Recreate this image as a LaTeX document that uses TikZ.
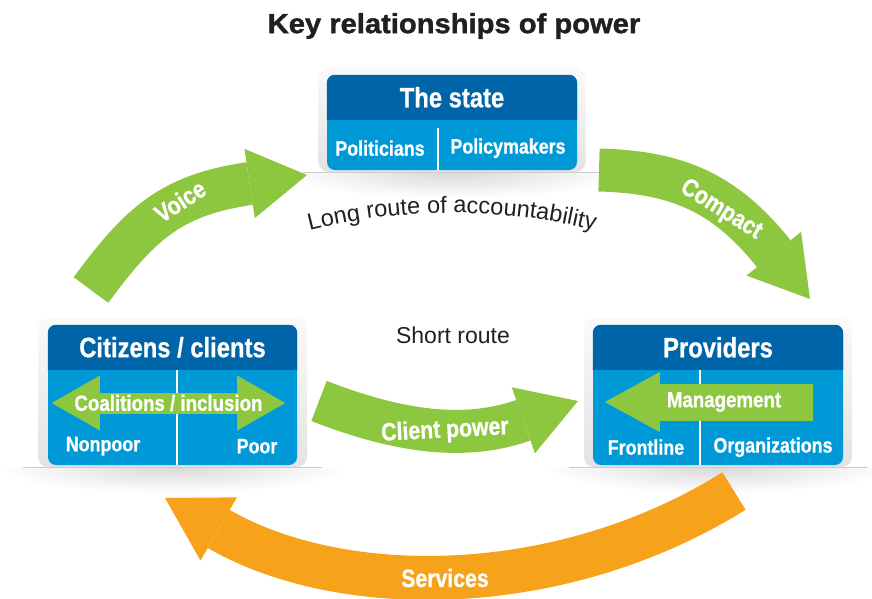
\documentclass[tikz,border=0pt]{standalone}
\usepackage{fontspec}
\setmainfont{Liberation Sans}[FakeStretch=0.85, FakeBold=0.8]
\newfontfamily\titlefont{Liberation Sans}[FakeStretch=1.06, FakeBold=1.4]
\newfontfamily\routefont{Liberation Sans}
\usepackage{xcolor}
\definecolor{darkblue}{HTML}{0064A8}
\definecolor{lightblue}{HTML}{0099D8}
\definecolor{leafgreen}{HTML}{8DC63F}
\definecolor{amber}{HTML}{F7A21B}
\definecolor{ink}{HTML}{231F20}
\usetikzlibrary{arrows.meta, positioning, decorations.text}

\begin{document}
\begin{tikzpicture}[x=1pt, y=-1pt,
    every node/.style={inner sep=0pt},
    plate/.style={top color=gray!4, bottom color=gray!22, rounded corners=10pt},
    bluebox/.style={fill=lightblue, rounded corners=8pt},
    headtext/.style={font=\bfseries\fontsize{28}{30}\selectfont, text=white},
    subtext/.style={font=\bfseries\fontsize{21}{24}\selectfont, text=white},
    armtext/.style={font=\bfseries\fontsize{22}{24}\selectfont, text=white},
    routetext/.style={font=\routefont\fontsize{23}{26}\selectfont, text=ink},
    divline/.style={draw=white, line width=2.5pt},
    bigarrow/.style={draw=leafgreen, line width=43pt, -{Triangle[length=58pt, width=70pt, line width=0pt]}},
    servicearrow/.style={draw=amber, line width=44pt, -{Triangle[length=62pt, width=73pt, line width=0pt]}}]
  \useasboundingbox (0,0) rectangle (872,598);

  % Title
  \node[font=\titlefont\bfseries\fontsize{27.5}{30}\selectfont, text=ink] (title) at (454,26) {Key relationships of power};

  % The state box
  \node[plate, minimum width=267pt, minimum height=105pt] (stateplate) at (452,119.5) {};
  \node[bluebox, minimum width=250pt, minimum height=95pt, anchor=south] (state) at ([yshift=2pt]stateplate.south) {};
  \begin{scope}
    \clip (state.north west) rectangle ([yshift=-45pt]state.north east);
    \fill[darkblue, rounded corners=8pt] (state.north west) rectangle (state.south east);
  \end{scope}
  \node[headtext] (statetitle) at ([yshift=-22.5pt]state.north) {The state};
  \draw[divline] ([xshift=111pt]state.south west) -- ([xshift=111pt, yshift=42pt]state.south west);
  \node[subtext] (politicians) at ([xshift=-72pt, yshift=22pt]state.south) {Politicians};
  \node[subtext] (policymakers) at ([xshift=56pt, yshift=22pt]state.south) {Policymakers};

  % Citizens / clients box
  \node[plate, minimum width=269pt, minimum height=149pt] (citizensplate) at (172.5,392.5) {};
  \node[bluebox, minimum width=249pt, minimum height=140pt, anchor=south] (citizens) at ([yshift=2pt]citizensplate.south) {};
  \begin{scope}
    \clip (citizens.north west) rectangle ([yshift=-45pt]citizens.north east);
    \fill[darkblue, rounded corners=8pt] (citizens.north west) rectangle (citizens.south east);
  \end{scope}
  \node[headtext] (citizenstitle) at ([yshift=-22.5pt]citizens.north) {Citizens / clients};
  \draw[divline] ([xshift=129pt]citizens.south west) -- ([xshift=129pt, yshift=95pt]citizens.south west);
  \node[subtext] (nonpoor) at ([xshift=-69.5pt, yshift=19pt]citizens.south) {Nonpoor};
  \node[subtext] (poor) at ([xshift=84.5pt, yshift=19pt]citizens.south) {Poor};
  % Coalitions arrow inside the box
  \coordinate (coalleft) at ([xshift=4pt, yshift=-8pt]citizens.west);
  \coordinate (coalright) at ([xshift=-12pt, yshift=-8pt]citizens.east);
  \draw[draw=leafgreen, line width=21pt, {Triangle[length=48pt, width=55pt, line width=0pt]}-{Triangle[length=48pt, width=55pt, line width=0pt]}] (coalleft) -- (coalright);
  \node[armtext] (coalitions) at ([xshift=-4pt, yshift=-8pt]citizens.center) {Coalitions / inclusion};

  % Providers box
  \node[plate, minimum width=268pt, minimum height=149pt] (providersplate) at (718,392.5) {};
  \node[bluebox, minimum width=250pt, minimum height=140pt, anchor=south] (providers) at ([yshift=2pt]providersplate.south) {};
  \begin{scope}
    \clip (providers.north west) rectangle ([yshift=-45pt]providers.north east);
    \fill[darkblue, rounded corners=8pt] (providers.north west) rectangle (providers.south east);
  \end{scope}
  \node[headtext] (providerstitle) at ([yshift=-22.5pt]providers.north) {Providers};
  \draw[divline] ([xshift=107pt]providers.south west) -- ([xshift=107pt, yshift=95pt]providers.south west);
  \node[subtext] (frontline) at ([xshift=-72pt, yshift=18pt]providers.south) {Frontline};
  \node[subtext] (organizations) at ([xshift=55pt, yshift=18pt]providers.south) {Organizations};
  % Management arrow inside the box
  \coordinate (mgmtright) at ([xshift=-30pt, yshift=-7pt]providers.east);
  \coordinate (mgmtleft) at ([xshift=12pt, yshift=-7pt]providers.west);
  \draw[draw=leafgreen, line width=37pt, -{Triangle[length=55pt, width=60pt, line width=0pt]}] (mgmtright) -- (mgmtleft);
  \node[armtext] (management) at ([xshift=6pt, yshift=-7pt]providers.center) {Management};

  % Floor shadows under the boxes
  \foreach \p in {stateplate, citizensplate, providersplate} {
    \begin{scope}
      \clip ([xshift=-40pt]\p.south west) rectangle ([xshift=40pt, yshift=-30pt]\p.south east);
      \shade[inner color=gray!30, outer color=white] (\p.south) ellipse [x radius=175pt, y radius=26pt];
    \end{scope}
    \draw[gray!40, line width=0.6pt] ([xshift=-15pt]\p.south west) -- ([xshift=15pt]\p.south east);
  }

  % Route labels
  \path[decorate, decoration={text along path, text align=center,
      text={|\routefont\fontsize{23.5}{26}\selectfont\color{ink}|Long route of accountability}}]
    (307,231) .. controls (400,207) and (505,207) .. (597,231);
  \node[routetext] (shortroute) at (453,335) {Short route};

  % Voice: citizens -> state
  \coordinate (voicetail) at (91,290);
  \coordinate (voicetip) at (307,175);
  \draw[bigarrow] (voicetail) .. controls +(50,-68) and +(-135,20) .. (voicetip);
  \node[armtext, rotate=33, font=\bfseries\fontsize{25}{27}\selectfont] (voice) at (180,201) {Voice};

  % Compact: state -> providers
  \coordinate (compacttail) at (599,170);
  \coordinate (compacttip) at (810,299);
  \draw[bigarrow] (compacttail) .. controls +(80,2) and +(-84,-105) .. (compacttip);
  \node[armtext, rotate=-32, font=\bfseries\fontsize{25}{27}\selectfont] (compact) at (721,210) {Compact};

  % Client power: citizens -> providers
  \coordinate (clienttail) at (319,401);
  \coordinate (clienttip) at (578,401);
  \draw[bigarrow] (clienttail) .. controls +(65,25) and +(-122,43) .. (clienttip);
  \node[armtext, rotate=3, font=\bfseries\fontsize{25}{27}\selectfont] (clientpower) at (445,431) {Client power};

  % Services: providers -> citizens
  \coordinate (servicetail) at (734,491);
  \coordinate (servicetip) at (165,498);
  \draw[servicearrow] (servicetail) .. controls +(-173,108) and +(177,102) .. (servicetip);
  \node[armtext, font=\bfseries\fontsize{25}{27}\selectfont] (services) at (445,578) {Services};
\end{tikzpicture}
\end{document}
